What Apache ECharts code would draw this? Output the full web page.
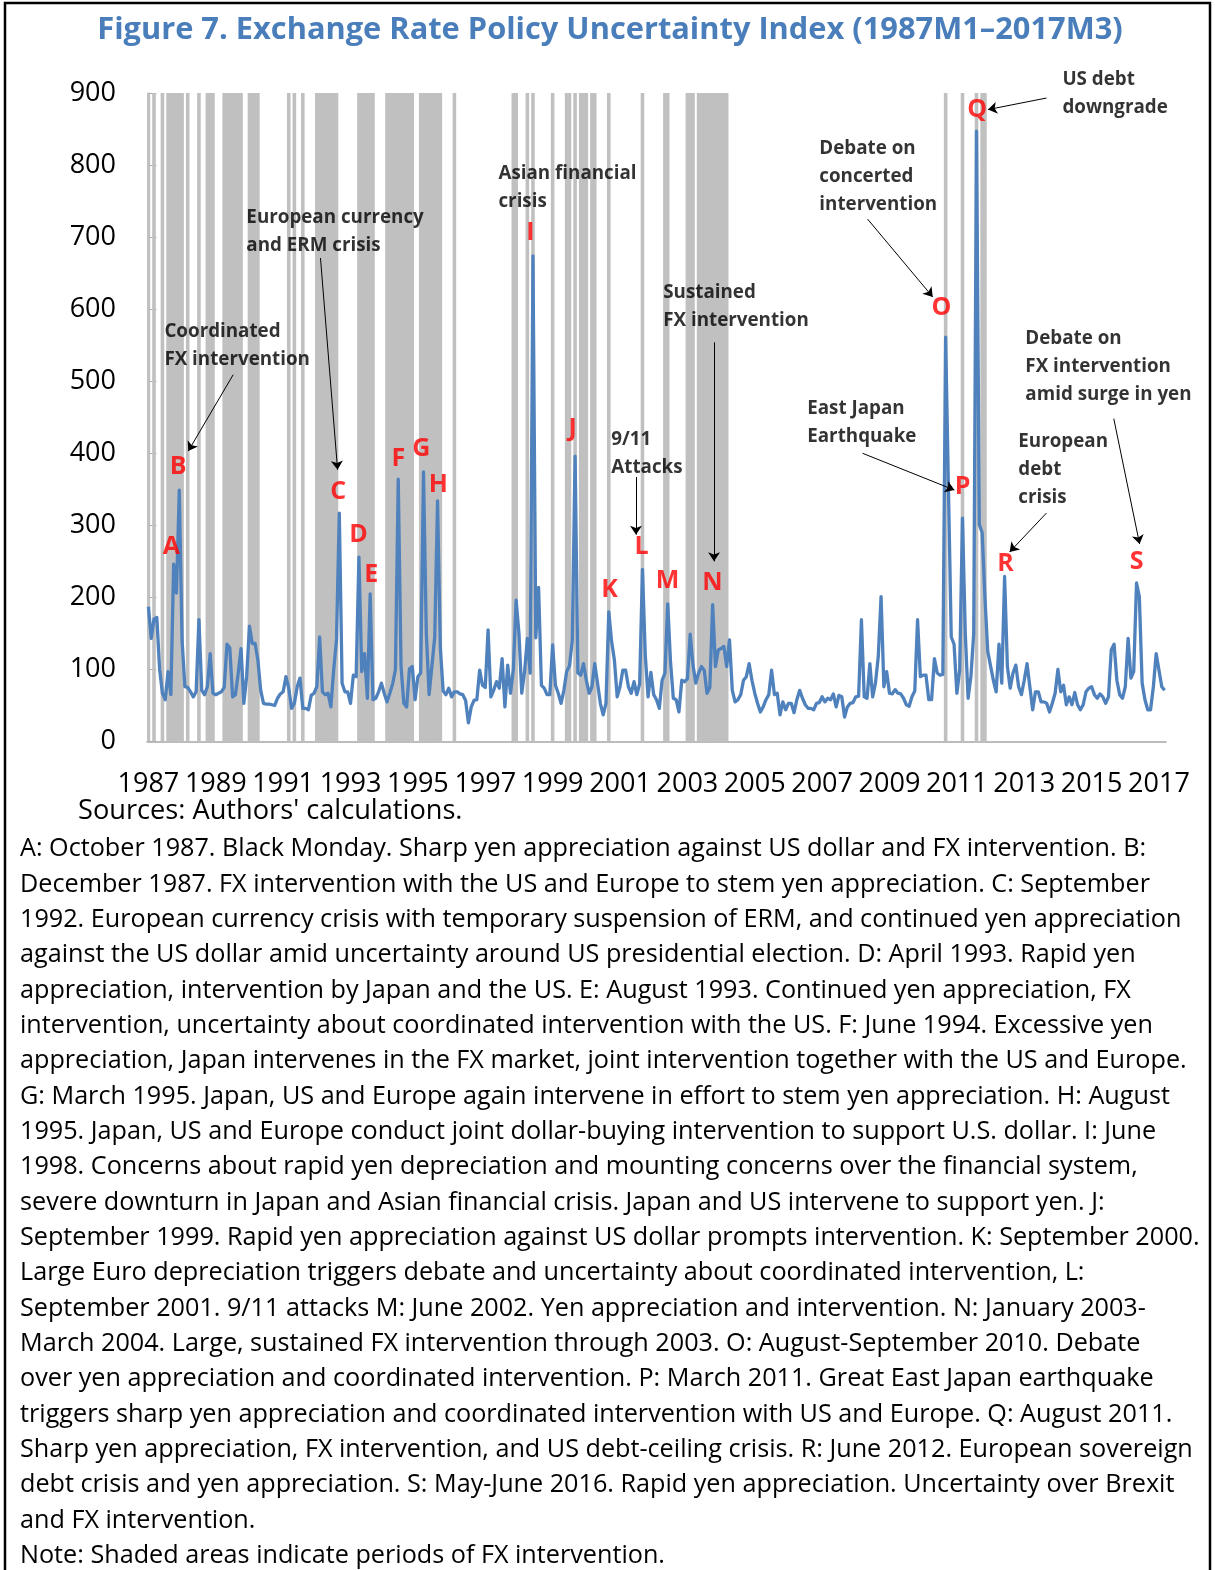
<!DOCTYPE html>
<html>
<head>
<meta charset="utf-8">
<script src="https://cdn.jsdelivr.net/npm/echarts@6/dist/echarts.min.js"></script>
<style>
  html, body { margin: 0; padding: 0; background: #fff; }
  #chart { width: 1215px; height: 1570px; }
</style>
</head>
<body>
<div id="chart"></div>
<script>
// monthly index, 1987M1 .. 2017M3 (one row per year)
var startYear = 1987;
var uncertainty = [
  187, 143, 170, 172, 100, 67, 58, 97, 65, 246, 206, 349,   // 1987
  140, 76, 75, 69, 62, 69, 169, 71, 65, 76, 122, 67,        // 1988
  65, 67, 69, 75, 135, 130, 62, 65, 95, 129, 53, 90,        // 1989
  160, 136, 136, 113, 71, 53, 52, 52, 51, 50, 60, 66,       // 1990
  69, 90, 74, 46, 53, 76, 88, 46, 46, 44, 64, 67,           // 1991
  76, 145, 69, 65, 67, 48, 99, 141, 317, 81, 69, 69,        // 1992
  53, 92, 90, 256, 97, 122, 60, 205, 58, 60, 69, 81,        // 1993
  67, 55, 67, 80, 100, 364, 104, 53, 48, 101, 104, 58,      // 1994
  90, 95, 374, 150, 65, 105, 145, 334, 130, 70, 65, 74,     // 1995
  62, 69, 69, 66, 65, 57, 26, 48, 57, 58, 99, 78,           // 1996
  75, 155, 62, 71, 83, 74, 115, 48, 106, 67, 100, 196,      // 1997
  150, 67, 97, 143, 95, 674, 144, 214, 78, 74, 65, 65,      // 1998
  134, 78, 67, 53, 71, 97, 105, 140, 396, 95, 92, 108,      // 1999
  85, 67, 76, 108, 81, 53, 37, 53, 180, 139, 113, 62,       // 2000
  76, 99, 99, 76, 67, 83, 65, 80, 239, 120, 62, 96,         // 2001
  65, 58, 46, 85, 95, 191, 110, 60, 58, 41, 85, 83,         // 2002
  87, 149, 106, 81, 95, 104, 99, 67, 75, 190, 104, 127,     // 2003
  129, 132, 104, 141, 71, 55, 58, 65, 85, 90, 108, 85,      // 2004
  67, 53, 41, 48, 58, 65, 99, 65, 67, 37, 55, 44,           // 2005
  53, 53, 40, 58, 71, 60, 51, 46, 46, 44, 53, 54,           // 2006
  62, 55, 60, 58, 66, 48, 64, 62, 34, 48, 53, 54,           // 2007
  62, 63, 169, 62, 60, 108, 62, 81, 118, 201, 76, 97,       // 2008
  67, 66, 72, 67, 66, 60, 51, 49, 62, 70, 169, 90,          // 2009
  92, 92, 58, 58, 115, 95, 92, 93, 561, 350, 145, 135,      // 2010
  67, 99, 310, 150, 60, 90, 150, 847, 301, 290, 200, 125,   // 2011
  105, 85, 69, 135, 81, 229, 104, 74, 95, 106, 76, 65,      // 2012
  85, 108, 76, 44, 69, 69, 55, 55, 53, 41, 53, 67,          // 2013
  100, 69, 78, 51, 62, 51, 68, 51, 44, 51, 69, 74,          // 2014
  76, 65, 60, 66, 62, 53, 62, 127, 135, 85, 65, 60,         // 2015
  76, 143, 88, 97, 220, 201, 81, 58, 44, 44, 76, 122,       // 2016
  99, 76, 71                                                // 2017
];

// months with FX intervention (shaded)
var interventionPeriods = [
  ['1987M1', '1987M1'], ['1987M3', '1987M3'], ['1987M6', '1987M6'],
  ['1987M8', '1988M1'], ['1988M3', '1988M3'], ['1988M7', '1988M7'],
  ['1988M10', '1988M12'], ['1989M4', '1989M10'], ['1990M1', '1990M4'],
  ['1991M3', '1991M3'], ['1991M5', '1991M5'], ['1991M8', '1991M8'],
  ['1992M1', '1992M8'], ['1993M4', '1993M9'], ['1994M2', '1994M11'],
  ['1995M2', '1995M9'], ['1996M2', '1996M2'], ['1997M11', '1997M12'],
  ['1998M4', '1998M4'], ['1998M6', '1998M6'], ['1999M1', '1999M1'],
  ['1999M6', '1999M7'], ['1999M9', '1999M9'], ['1999M11', '2000M1'],
  ['2000M3', '2000M4'], ['2000M9', '2000M9'], ['2001M9', '2001M9'],
  ['2002M5', '2002M6'], ['2003M1', '2003M3'], ['2003M5', '2004M3'],
  ['2010M9', '2010M9'], ['2011M3', '2011M3'], ['2011M8', '2011M8'],
  ['2011M10', '2011M11']
];

var yTicks = [0, 100, 200, 300, 400, 500, 600, 700, 800, 900];

// event letters: [letter, month index, index value]
var eventLetters = [
  ['A', 8.2, 270], ['B', 10.6, 381], ['C', 67.6, 347], ['D', 74.8, 287],
  ['E', 79.4, 231], ['F', 89, 392], ['G', 97.2, 406], ['H', 103.3, 356],
  ['I', 136.1, 706], ['J', 151.1, 434], ['K', 164.3, 210], ['L', 175.7, 270],
  ['M', 184.9, 223], ['N', 200.9, 220], ['O', 282.5, 602], ['P', 290, 353],
  ['Q', 295.2, 876], ['R', 305.3, 246], ['S', 352, 249]
];

// callout text, anchored at its top-left corner (month index, value)
var callouts = [
  ['Coordinated\nFX intervention', 5.7, 588],
  ['European currency\nand ERM crisis', 34.9, 747],
  ['Asian financial\ncrisis', 124.7, 808],
  ['Sustained\nFX intervention', 183.4, 642],
  ['9/11\nAttacks', 164.9, 438],
  ['Debate on\nconcerted\nintervention', 239, 842],
  ['US debt\ndowngrade', 325.6, 938],
  ['East Japan\nEarthquake', 234.7, 482],
  ['Debate on\nFX intervention\namid surge in yen', 312.4, 578],
  ['European\ndebt\ncrisis', 309.9, 436]
];

// arrows from callout to event: [[from], [to]]
var arrows = [
  [[30.2, 509], [14.2, 403]],
  [[61.3, 671], [67.4, 377]],
  [[201.5, 554], [201.5, 250]],
  [[173.7, 367], [173.7, 287]],
  [[256.2, 725], [279.4, 617]],
  [[319.9, 893], [299.1, 877]],
  [[254.4, 400], [287.1, 349]],
  [[343.9, 448], [353.1, 274]],
  [[319.9, 317], [306.8, 263]]
];

var noteLines = [
  'A: October 1987. Black Monday. Sharp yen appreciation against US dollar and FX intervention. B:',
  'December 1987. FX intervention with the US and Europe to stem yen appreciation. C: September',
  '1992. European currency crisis with temporary suspension of ERM, and continued yen appreciation',
  'against the US dollar amid uncertainty around US presidential election. D: April 1993. Rapid yen',
  'appreciation, intervention by Japan and the US. E: August 1993. Continued yen appreciation, FX',
  'intervention, uncertainty about coordinated intervention with the US. F: June 1994. Excessive yen',
  'appreciation, Japan intervenes in the FX market, joint intervention together with the US and Europe.',
  'G: March 1995. Japan, US and Europe again intervene in effort to stem yen appreciation. H: August',
  '1995. Japan, US and Europe conduct joint dollar-buying intervention to support U.S. dollar. I: June',
  '1998. Concerns about rapid yen depreciation and mounting concerns over the financial system,',
  'severe downturn in Japan and Asian financial crisis. Japan and US intervene to support yen. J:',
  'September 1999. Rapid yen appreciation against US dollar prompts intervention. K: September 2000.',
  'Large Euro depreciation triggers debate and uncertainty about coordinated intervention, L:',
  'September 2001. 9/11 attacks M: June 2002. Yen appreciation and intervention. N: January 2003-',
  'March 2004. Large, sustained FX intervention through 2003. O: August-September 2010. Debate',
  'over yen appreciation and coordinated intervention. P: March 2011. Great East Japan earthquake',
  'triggers sharp yen appreciation and coordinated intervention with US and Europe. Q: August 2011.',
  'Sharp yen appreciation, FX intervention, and US debt-ceiling crisis. R: June 2012. European sovereign',
  'debt crisis and yen appreciation. S: May-June 2016. Rapid yen appreciation. Uncertainty over Brexit',
  'and FX intervention.',
  'Note: Shaded areas indicate periods of FX intervention.'
];

// ---- build what the library needs ----
var months = uncertainty.map(function (v, i) {
  return (startYear + Math.floor(i / 12)) + 'M' + (i % 12 + 1);
});
var shaded = months.map(function () { return '-'; });
interventionPeriods.forEach(function (p) {
  var a = months.indexOf(p[0]), b = months.indexOf(p[1]);
  for (var i = a; i <= b; i++) shaded[i] = yTicks[yTicks.length - 1];
});

var FONT = '"Open Sans", "Noto Sans", sans-serif';

var graphics = [
  { type: 'rect', shape: { x: 5, y: 3, width: 1205, height: 1585 },
    style: { fill: 'none', stroke: '#000', lineWidth: 2.5 }, silent: true },
  { type: 'text', x: 610, y: 30,
    style: { text: 'Figure 7. Exchange Rate Policy Uncertainty Index (1987M1\u20132017M3)',
      font: 'bold 30.8px ' + FONT, fill: '#4a7ebb', textAlign: 'center', textVerticalAlign: 'middle' } },
  { type: 'text', x: 78, y: 811,
    style: { text: "Sources: Authors' calculations.", font: '27.2px ' + FONT, fill: '#000',
      textAlign: 'left', textVerticalAlign: 'middle' } }
];
noteLines.forEach(function (t, i) {
  graphics.push({ type: 'text', x: 20, y: 849 + i * 35.35,
    style: { text: t, font: '25.2px ' + FONT, fill: '#000', textAlign: 'left', textVerticalAlign: 'middle' } });
});

var chart = echarts.init(document.getElementById('chart'), null, { renderer: 'canvas' });
chart.setOption({
  animation: false,
  backgroundColor: '#fff',
  grid: { left: 147, top: 93, width: 1019, height: 648.5 },
  xAxis: [{
    type: 'category',
    data: months,
    boundaryGap: true,
    axisLine: { lineStyle: { color: '#a6a6a6', width: 1.5 } },
    axisTick: { interval: 23, length: 10, lineStyle: { color: '#a6a6a6', width: 1.5 } },
    axisLabel: { interval: 23, margin: 29, fontSize: 27, color: '#000', fontFamily: FONT,
      formatter: function (v) { return v.split('M')[0]; } },
    splitLine: { show: false }
  }, {
    type: 'value', min: -0.5, max: uncertainty.length - 0.5, show: false
  }],
  yAxis: {
    type: 'value', min: yTicks[0], max: yTicks[yTicks.length - 1], interval: 100,
    axisLine: { show: true, lineStyle: { color: '#a6a6a6', width: 1.5 } },
    axisTick: { show: true, inside: true, length: 8, lineStyle: { color: '#a6a6a6' } },
    axisLabel: { fontSize: 27, color: '#000', margin: 31, fontFamily: FONT },
    splitLine: { show: false }
  },
  series: [{
    type: 'bar',
    data: shaded,
    barWidth: 3.6,   // a bit wider than a month so neighbours overlap, no seams
    itemStyle: { color: '#c0c0c0' },
    silent: true,
    z: 1
  }, {
    type: 'line',
    data: uncertainty,
    showSymbol: false,
    lineStyle: { color: '#4f81bd', width: 3.3, join: 'round' },
    silent: true,
    z: 3
  }, {
    type: 'scatter',
    xAxisIndex: 1,
    symbolSize: 0,
    clip: false,
    silent: true,
    z: 5,
    data: eventLetters.map(function (e) { return [e[1], e[2], e[0]]; }),
    label: { show: true, position: [0, 0], align: 'center', verticalAlign: 'middle',
      formatter: function (p) { return p.data[2]; },
      color: '#ff0000', fontWeight: 'bold', fontSize: 25, fontFamily: FONT }
  }, {
    type: 'scatter',
    xAxisIndex: 1,
    symbolSize: 0,
    clip: false,
    silent: true,
    z: 5,
    data: callouts.map(function (c) { return [c[1], c[2], c[0]]; }),
    label: { show: true, position: [0, 0], align: 'left', verticalAlign: 'top',
      formatter: function (p) { return p.data[2]; },
      color: '#000', fontWeight: 'bold', fontSize: 18.8, lineHeight: 28, fontFamily: FONT },
    markLine: {
      silent: true,
      symbol: ['none', 'arrow'],
      symbolSize: 9,
      label: { show: false },
      lineStyle: { color: '#000', width: 1, type: 'solid' },
      data: arrows.map(function (a) {
        return [{ coord: a[0] }, { coord: a[1] }];
      })
    }
  }],
  graphic: graphics
});
</script>
</body>
</html>
